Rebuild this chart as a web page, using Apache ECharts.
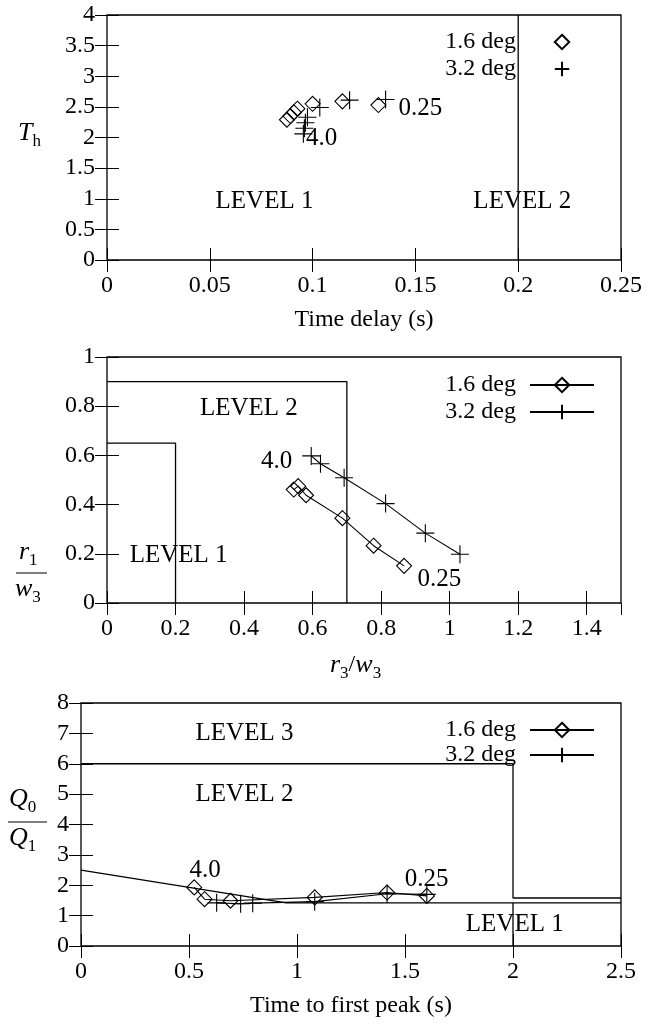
<!DOCTYPE html>
<html><head><meta charset="utf-8">
<script src="https://cdn.jsdelivr.net/npm/echarts@6/dist/echarts.min.js"></script>
<style>html,body{margin:0;padding:0;background:#fff}#c{width:649px;height:1025px}</style>
</head><body><div id="c"></div>
<script>
// ---------- Panel 1: T_h vs Time delay ----------
const p1Diamond = [[0.0875,2.29],[0.0892,2.35],[0.0909,2.41],[0.0926,2.47],[0.100,2.55],[0.1145,2.59],[0.132,2.53]];
const p1Plus = [[0.0955,2.06],[0.096,2.15],[0.0965,2.24],[0.0975,2.33],[0.1035,2.49],[0.118,2.61],[0.1355,2.62]];
const p1Boundary = [[0.2,0],[0.2,4]];
const p1Notes = [['LEVEL 1',0.0766,0.955],['LEVEL 2',0.202,0.955],['4.0',0.1044,1.99],['0.25',0.1524,2.47]];

// ---------- Panel 2: r1/w3 vs r3/w3 ----------
const p2Diamond = [[0.545,0.461],[0.558,0.475],[0.581,0.438],[0.687,0.345],[0.778,0.233],[0.867,0.151]];
const p2Plus = [[0.596,0.598],[0.623,0.566],[0.692,0.509],[0.813,0.404],[0.929,0.284],[1.03,0.198]];
const p2Level2 = [[0,0.9],[0.7,0.9],[0.7,0]];
const p2Level1 = [[0,0.65],[0.2,0.65],[0.2,0]];
const p2Notes = [['LEVEL 2',0.414,0.789],['LEVEL 1',0.209,0.195],['4.0',0.495,0.577],['0.25',0.97,0.097]];

// ---------- Panel 3: Q0/Q1 vs Time to first peak ----------
const p3Diamond = [[0.524,1.93],[0.572,1.54],[0.692,1.49],[1.082,1.6],[1.417,1.76],[1.601,1.65]];
const p3Plus = [[0.628,1.42],[0.739,1.39],[0.795,1.41],[1.082,1.46],[1.417,1.72],[1.601,1.7]];
const p3Level1 = [[0,2.5],[0.95,1.42],[2.5,1.42]];
const p3Level1Right = [[2,1.42],[2,0]];
const p3Level3 = [[0,6],[2,6],[2,1.58],[2.5,1.58]];
const p3Notes = [['LEVEL 3',0.757,6.99],['LEVEL 2',0.757,5.0],['LEVEL 1',2.008,0.715],['4.0',0.575,2.5],['0.25',1.6,2.2]];

const seriesNames = ['1.6 deg','3.2 deg'];
const axes = [
  {x:[0,0.25,0.05], y:[0,4,0.5], xName:'Time delay (s)'},
  {x:[0,1.5,0.2],   y:[0,1,0.2], xName:''},
  {x:[0,2.5,0.5],   y:[0,8,1],   xName:'Time to first peak (s)'}
];

// ---------- styling ----------
const FONT = 'Liberation Serif', FS = 24;
const grids = [
  {left:107, width:514, top:15,  height:245},
  {left:107, width:514, top:357, height:246},
  {left:81,  width:540, top:703, height:243}
];
const DIAMOND = 'path://M0,-10L10,0L0,10L-10,0Z';
const PLUS = 'path://M-10,0L10,0M0,-10L0,10';
const tick = {inside:true, length:12, lineStyle:{color:'#000', width:1}};
const txt = {fontFamily:FONT, fontSize:FS, color:'#000'};

const xAxis = [], yAxis = [], series = [], legend = [];
axes.forEach((a, g) => {
  xAxis.push({gridIndex:g, type:'value', min:a.x[0], max:a.x[1], interval:a.x[2], position:'bottom',
    axisLine:{show:false}, axisTick:tick, splitLine:{show:false},
    axisLabel:Object.assign({margin:14, showMaxLabel: g!==1}, txt),
    name:a.xName, nameLocation:'middle', nameGap:48, nameTextStyle:txt});
  xAxis.push({gridIndex:g, type:'value', min:a.x[0], max:a.x[1], interval:a.x[2], position:'top',
    axisLine:{show:false}, axisTick:tick, splitLine:{show:false}, axisLabel:{show:false}});
  yAxis.push({gridIndex:g, type:'value', min:a.y[0], max:a.y[1], interval:a.y[2], position:'left',
    axisLine:{show:false}, axisTick:tick, splitLine:{show:false},
    axisLabel:Object.assign({margin:12}, txt)});
  yAxis.push({gridIndex:g, type:'value', min:a.y[0], max:a.y[1], interval:a.y[2], position:'right',
    axisLine:{show:false}, axisTick:tick, splitLine:{show:false}, axisLabel:{show:false}});
});

const pad = g => ' '.repeat(g);
function dataSeries(g, name, data, symbol, size, showLine) {
  series.push({type:'line', name:name + pad(g), xAxisIndex:2*g, yAxisIndex:2*g, data:data,
    symbol:symbol, symbolSize:size, showSymbol:true, animation:false, silent:true,
    itemStyle:{color:'rgba(0,0,0,0)', borderColor:'#000', borderWidth:1.1},
    lineStyle:{color:'#000', width:1.1, opacity: showLine ? 1 : 0}, z:5});
}
function boundary(g, data) {
  series.push({type:'line', xAxisIndex:2*g, yAxisIndex:2*g, data:data, symbol:'none', animation:false,
    silent:true, lineStyle:{color:'#000', width:1.3}, z:3});
}
function notes(g, list) {
  series.push({type:'scatter', xAxisIndex:2*g, yAxisIndex:2*g, symbol:'circle', symbolSize:0,
    itemStyle:{color:'#000', opacity:1}, animation:false, silent:true, z:6,
    data:list.map(n => ({name:n[0], value:[n[1], n[2]]})),
    label:Object.assign({show:true, position:'inside', formatter:p => p.name, opacity:1,
      textBorderWidth:0, textShadowBlur:0}, txt, {fontSize:25})});
}

dataSeries(0, seriesNames[0], p1Diamond, DIAMOND, 15, false);
dataSeries(0, seriesNames[1], p1Plus, PLUS, 18, false);
boundary(0, p1Boundary); notes(0, p1Notes);

dataSeries(1, seriesNames[0], p2Diamond, DIAMOND, 15, true);
dataSeries(1, seriesNames[1], p2Plus, PLUS, 18, true);
boundary(1, p2Level2); boundary(1, p2Level1); notes(1, p2Notes);

dataSeries(2, seriesNames[0], p3Diamond, DIAMOND, 15, true);
dataSeries(2, seriesNames[1], p3Plus, PLUS, 18, true);
boundary(2, p3Level1); boundary(2, p3Level1Right); boundary(2, p3Level3); notes(2, p3Notes);

const legendTops = [25, 368, 713];
const legendGaps = [3, 3, 1];
legendTops.forEach((t, g) => {
  legend.push({top:t, right:49, orient:'vertical', align:'right', itemWidth:64, itemHeight:18, itemGap:legendGaps[g],
    data:seriesNames.map(n => n + pad(g)), formatter:n => n.trim(), selectedMode:false,
    textStyle:Object.assign({padding:[0,9,0,0]}, txt)});
});

const rich = {
  i:{fontFamily:FONT, fontSize:26, fontStyle:'italic', color:'#000', lineHeight:26},
  s:{fontFamily:FONT, fontSize:17, color:'#000', verticalAlign:'bottom', lineHeight:34},
  n:{fontFamily:FONT, fontSize:FS, color:'#000', lineHeight:26}
};
const graphic = [
  {type:'text', left:18, top:120, style:{text:'{i|T}{s|h}', rich:rich}},
  {type:'text', left:19, top:539, style:{text:'{i|r}{s|1}', rich:rich}},
  {type:'line', shape:{x1:16, y1:573, x2:47, y2:573}, style:{stroke:'#000', lineWidth:1}},
  {type:'text', left:15, top:576, style:{text:'{i|w}{s|3}', rich:rich}},
  {type:'text', left:330, top:652, style:{text:'{i|r}{s|3}{n|/}{i|w}{s|3}', rich:rich}},
  {type:'text', left:9, top:786, style:{text:'{i|Q}{s|0}', rich:rich}},
  {type:'line', shape:{x1:8, y1:822, x2:47, y2:822}, style:{stroke:'#000', lineWidth:1}},
  {type:'text', left:9, top:825, style:{text:'{i|Q}{s|1}', rich:rich}}
];

const chart = echarts.init(document.getElementById('c'), null, {renderer:'canvas'});
chart.setOption({
  animation:false, backgroundColor:'#fff',
  grid:grids.map(g => Object.assign({show:true, borderColor:'#000', borderWidth:1.3, backgroundColor:'transparent'}, g)),
  xAxis:xAxis, yAxis:yAxis, series:series, legend:legend, graphic:graphic
});
</script></body></html>
